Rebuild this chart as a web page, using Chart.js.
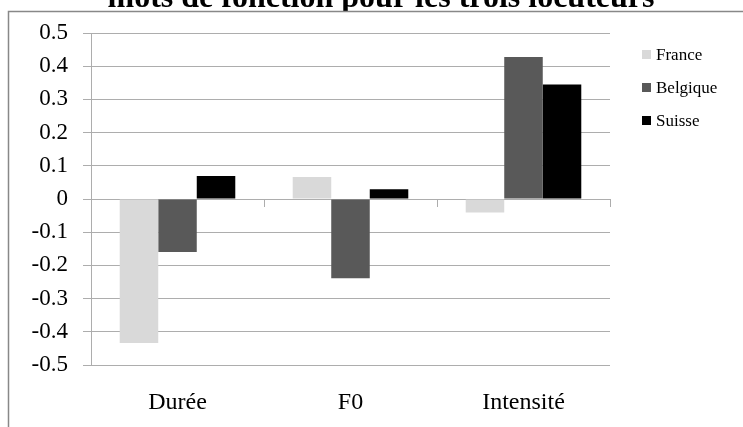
<!DOCTYPE html>
<html>
<head>
<meta charset="utf-8">
<script src="https://cdn.jsdelivr.net/npm/chart.js@4.4.1/dist/chart.umd.min.js"></script>
<style>
  html, body { margin: 0; padding: 0; background: #ffffff; }
  canvas { display: block; }
</style>
</head>
<body>
<canvas id="c" width="743" height="427"></canvas>
<script>
// Mean differences for function words, per acoustic parameter and speaker
const categories = ['Durée', 'F0', 'Intensité'];
const speakers = ['France', 'Belgique', 'Suisse'];
const franceValues = [-0.434, 0.066, -0.041];
const belgiqueValues = [-0.16, -0.239, 0.428];
const suisseValues = [0.069, 0.029, 0.345];
const seriesColors = ['#d9d9d9', '#595959', '#000000'];
const chartTitle = 'mots de fonction pour les trois locuteurs';

const serif = '"Liberation Serif", "Times New Roman", serif';
const gridColor = '#adadad';

// Title, outer frame, legend and the category ticks on the zero line
const decorations = {
  id: 'decorations',
  beforeDraw(chart) {
    const ctx = chart.ctx;
    ctx.save();
    ctx.fillStyle = '#ffffff';
    ctx.fillRect(0, 0, chart.width, chart.height);
    ctx.fillStyle = '#000000';
    ctx.font = 'bold 32px ' + serif;
    ctx.textAlign = 'center';
    ctx.textBaseline = 'alphabetic';
    ctx.fillText(chartTitle, 381, 7);
    // chart frame (its white fill hides the title's descenders)
    ctx.fillStyle = '#ffffff';
    ctx.fillRect(8, 11, chart.width, chart.height);
    ctx.strokeStyle = '#888888';
    ctx.lineWidth = 1.5;
    ctx.beginPath();
    ctx.moveTo(8.5, chart.height + 2);
    ctx.lineTo(8.5, 11.5);
    ctx.lineTo(chart.width + 2, 11.5);
    ctx.stroke();
    ctx.restore();
  },
  afterDraw(chart) {
    const ctx = chart.ctx;
    const xs = chart.scales.x;
    const ys = chart.scales.y;
    const y0 = ys.getPixelForValue(0);
    const n = chart.data.labels.length;
    ctx.save();
    ctx.strokeStyle = gridColor;
    ctx.lineWidth = 1;
    ctx.beginPath();
    for (let i = 1; i <= n; i++) {
      const x = i < n
        ? (xs.getPixelForValue(i - 1) + xs.getPixelForValue(i)) / 2
        : xs.right;
      const px = Math.round(x) + 0.5;
      ctx.moveTo(px, y0);
      ctx.lineTo(px, y0 + 8);
    }
    ctx.stroke();

    // legend
    ctx.font = '17px ' + serif;
    ctx.textAlign = 'left';
    ctx.textBaseline = 'middle';
    chart.data.datasets.forEach((ds, i) => {
      const cy = 54.5 + i * 33;
      ctx.fillStyle = ds.backgroundColor;
      ctx.fillRect(642, cy - 4.5, 9, 9);
      ctx.fillStyle = '#000000';
      ctx.fillText(ds.label, 656, cy + 1);
    });
    ctx.restore();
  }
};

const seriesValues = [franceValues, belgiqueValues, suisseValues];

new Chart(document.getElementById('c'), {
  type: 'bar',
  data: {
    labels: categories,
    datasets: speakers.map((name, i) => ({
      label: name,
      data: seriesValues[i],
      backgroundColor: seriesColors[i],
      borderWidth: 0,
      categoryPercentage: 0.668,
      barPercentage: 1.0
    }))
  },
  options: {
    responsive: false,
    animation: false,
    devicePixelRatio: 1,
    layout: { padding: { left: 0, top: 33, right: 133, bottom: 0 } },
    plugins: {
      legend: { display: false },
      title: { display: false },
      tooltip: { enabled: false }
    },
    scales: {
      x: {
        offset: true,
        grid: { display: false, drawTicks: false },
        border: { display: false },
        ticks: {
          color: '#000000',
          font: { family: serif, size: 24 },
          padding: 23,
          maxRotation: 0
        },
        afterFit(scale) { scale.height = 62; }
      },
      y: {
        min: -0.5,
        max: 0.5,
        grid: {
          color: gridColor,
          lineWidth: 1,
          drawTicks: true,
          tickLength: 8
        },
        border: { display: true, color: gridColor, width: 1 },
        ticks: {
          stepSize: 0.1,
          color: '#000000',
          font: { family: serif, size: 23 },
          padding: 15,
          callback(v) {
            return Math.abs(v) < 1e-9 ? '0' : Number(v).toFixed(1);
          }
        },
        afterFit(scale) { scale.width = 91; }
      }
    }
  },
  plugins: [decorations]
});
</script>
</body>
</html>
